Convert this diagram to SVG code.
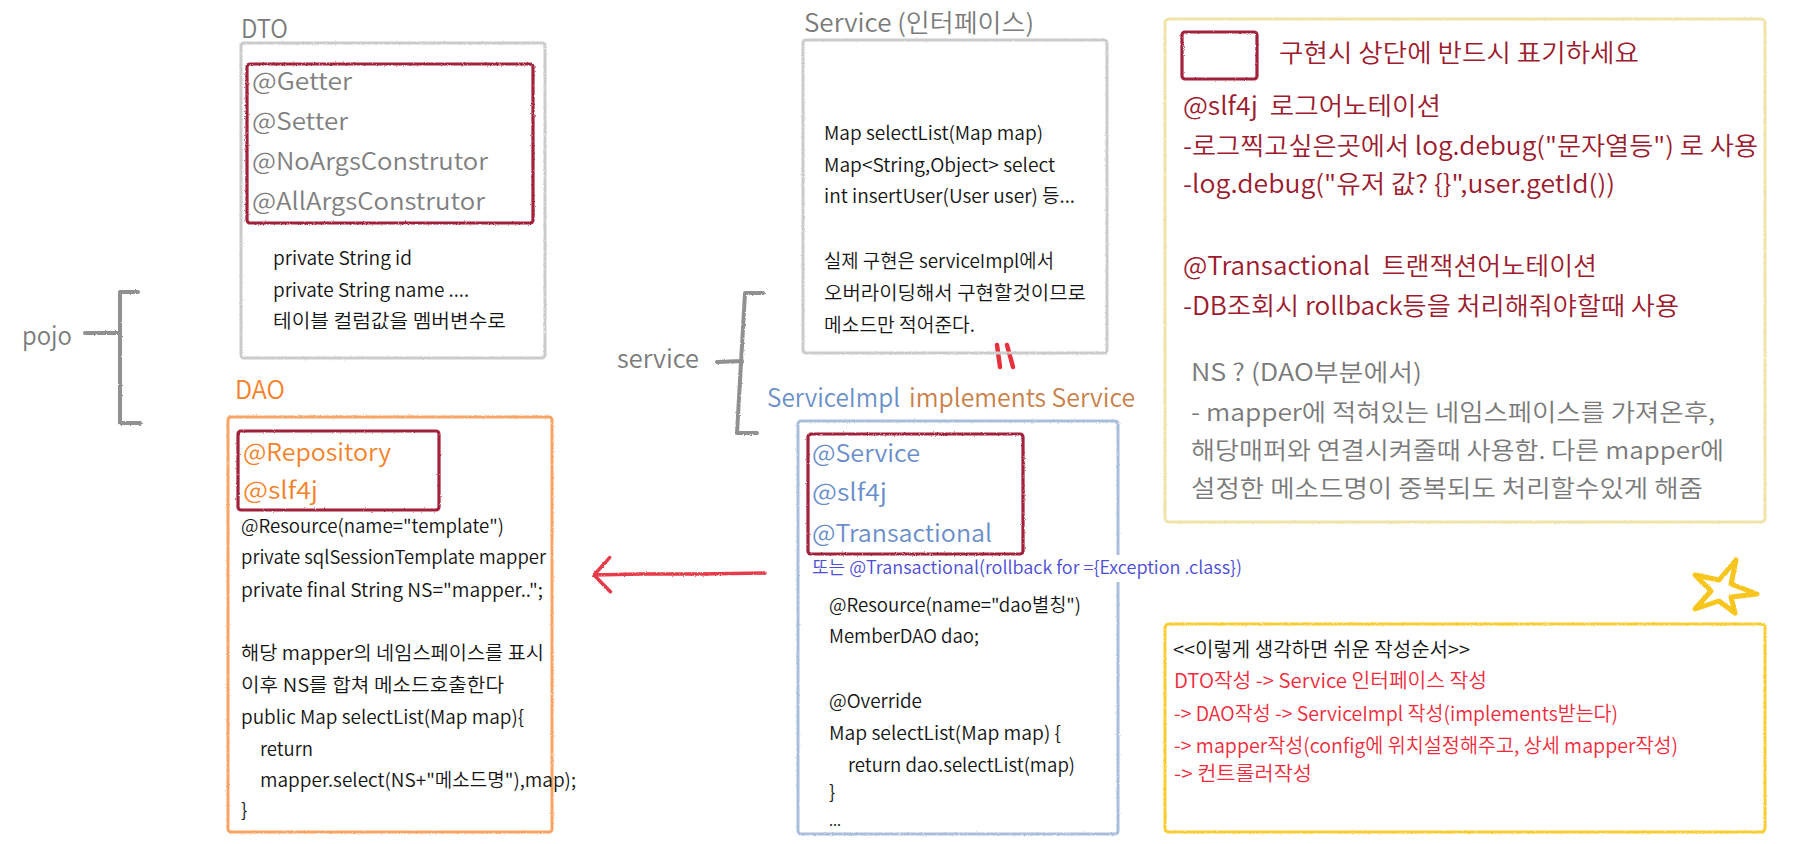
<svg xmlns="http://www.w3.org/2000/svg" width="1809" height="844" viewBox="0 0 1809 844">
<style>
text{font-family:'Noto Sans CJK KR','Noto Sans',sans-serif;font-weight:350}
.lbl{font-size:25px;fill:#7b7b7b}
.ann{font-size:24px}
.code{font-size:19px;fill:#141414}
.box{fill:none;stroke-width:3;filter:url(#crayon)}
.gray{stroke:#cbcbcb}
.inner{stroke:#a3203a;stroke-width:3.2}
.dr{fill:#9c1b2e;font-size:25px}
.ns{fill:#7a7a7a;font-size:24px}
.ord{font-size:20px;fill:#f02b3c}
.brk{fill:none;stroke:#909090;stroke-width:4;stroke-linecap:round;stroke-linejoin:round;filter:url(#crayon)}
</style>
<defs>
<filter id="crayon" filterUnits="userSpaceOnUse" x="0" y="0" width="1809" height="844">
<feTurbulence type="fractalNoise" baseFrequency="0.9" numOctaves="1" seed="3" result="n"/>
<feDisplacementMap in="SourceGraphic" in2="n" scale="2.5" xChannelSelector="R" yChannelSelector="G"/>
</filter>
<marker id="chev" viewBox="0 0 20 40" markerWidth="20" markerHeight="40" refX="19" refY="20" orient="auto" markerUnits="userSpaceOnUse">
<path d="M3,3 L19,20 L3,37" fill="none" stroke="#e63a48" stroke-width="3.5" stroke-linecap="round" stroke-linejoin="round"/>
</marker>
</defs>
<rect width="1809" height="844" fill="#ffffff"/>

<g id="connectors">
<path class="brk" d="M85,333 L118,333 M138,292 L120,292 L120,423 L140,423"/>
<text class="lbl" x="22" y="345" textLength="50" lengthAdjust="spacingAndGlyphs">pojo</text>
<path class="brk" d="M717,362 L742,361 M763,293 L745,293 L737,433 L757,433"/>
<text class="lbl" x="617" y="368" textLength="82" lengthAdjust="spacingAndGlyphs">service</text>
<path d="M765,573 L700,574 L640,574 L594,575" fill="none" stroke="#e63a48" stroke-width="3.5" stroke-linecap="round" marker-end="url(#chev)" filter="url(#crayon)"/>
<path d="M997,345 L1000,367 M1007,345 L1013,367" fill="none" stroke="#e8303c" stroke-width="4.5" stroke-linecap="round"/>
</g>

<g id="dto">
<text class="lbl" x="241" y="38" textLength="47" lengthAdjust="spacingAndGlyphs">DTO</text>
<rect class="box gray" x="241" y="43" width="304" height="315" rx="3"/>
<rect class="box inner" x="247" y="64" width="286" height="159" rx="3"/>
<g class="ann" fill="#808080">
<text x="252" y="90" textLength="100" lengthAdjust="spacingAndGlyphs">@Getter</text>
<text x="252" y="130" textLength="96" lengthAdjust="spacingAndGlyphs">@Setter</text>
<text x="252" y="170" textLength="236" lengthAdjust="spacingAndGlyphs">@NoArgsConstrutor</text>
<text x="252" y="210" textLength="233" lengthAdjust="spacingAndGlyphs">@AllArgsConstrutor</text>
</g>
<text class="code" x="273" y="265" textLength="139" lengthAdjust="spacingAndGlyphs">private String id</text>
<text class="code" x="273" y="297" textLength="196" lengthAdjust="spacingAndGlyphs">private String name ....</text>
<text class="code" x="273" y="328" textLength="233" lengthAdjust="spacingAndGlyphs">테이블 컬럼값을 멤버변수로</text>
</g>

<g id="service">
<text class="lbl" x="804" y="32" textLength="230" lengthAdjust="spacingAndGlyphs">Service (인터페이스)</text>
<rect class="box gray" x="803" y="40" width="304" height="313" rx="3"/>
<text class="code" x="824" y="140" textLength="219" lengthAdjust="spacingAndGlyphs">Map selectList(Map map)</text>
<text class="code" x="824" y="172" textLength="231" lengthAdjust="spacingAndGlyphs">Map&lt;String,Object&gt; select</text>
<text class="code" x="824" y="203" textLength="251" lengthAdjust="spacingAndGlyphs">int insertUser(User user) 등...</text>
<text class="code" x="824" y="268" textLength="230" lengthAdjust="spacingAndGlyphs">실제 구현은 serviceImpl에서</text>
<text class="code" x="824" y="300" textLength="262" lengthAdjust="spacingAndGlyphs">오버라이딩해서 구현할것이므로</text>
<text class="code" x="824" y="332" textLength="151" lengthAdjust="spacingAndGlyphs">메소드만 적어준다.</text>
</g>

<g id="dao">
<text class="lbl" x="235" y="399" style="fill:#f5822a" textLength="50" lengthAdjust="spacingAndGlyphs">DAO</text>
<rect class="box" x="228" y="417" width="324" height="415" rx="3" stroke="#f7a465"/>
<rect class="box inner" x="238" y="431" width="201" height="79" rx="3"/>
<g class="ann" fill="#f5822a">
<text x="243" y="461" textLength="148" lengthAdjust="spacingAndGlyphs">@Repository</text>
<text x="243" y="499" textLength="75" lengthAdjust="spacingAndGlyphs">@slf4j</text>
</g>
<text class="code" x="241" y="533" textLength="263" lengthAdjust="spacingAndGlyphs">@Resource(name="template")</text>
<text class="code" x="241" y="564" textLength="305" lengthAdjust="spacingAndGlyphs">private sqlSessionTemplate mapper</text>
<text class="code" x="241" y="597" textLength="302" lengthAdjust="spacingAndGlyphs">private final String NS="mapper..";</text>
<text class="code" x="241" y="660" textLength="303" lengthAdjust="spacingAndGlyphs">해당 mapper의 네임스페이스를 표시</text>
<text class="code" x="241" y="692" textLength="263" lengthAdjust="spacingAndGlyphs">이후 NS를 합쳐 메소드호출한다</text>
<text class="code" x="241" y="724" textLength="283" lengthAdjust="spacingAndGlyphs">public Map selectList(Map map){</text>
<text class="code" x="260" y="756" textLength="53" lengthAdjust="spacingAndGlyphs">return</text>
<text class="code" x="260" y="787" textLength="316" lengthAdjust="spacingAndGlyphs">mapper.select(NS+"메소드명"),map);</text>
<text class="code" x="241" y="817">}</text>
</g>

<g id="serviceimpl">
<text class="lbl" x="767" y="407" style="fill:#6b8fc8" textLength="133" lengthAdjust="spacingAndGlyphs">ServiceImpl</text>
<text class="lbl" x="909" y="407" style="fill:#c9804a" textLength="226" lengthAdjust="spacingAndGlyphs">implements Service</text>
<rect class="box" x="798" y="421" width="320" height="413" rx="3" stroke="#a9bedb"/>
<rect class="box inner" x="808" y="434" width="215" height="120" rx="3"/>
<g class="ann" fill="#6a8ecb">
<text x="812" y="462" textLength="108" lengthAdjust="spacingAndGlyphs">@Service</text>
<text x="812" y="501" textLength="75" lengthAdjust="spacingAndGlyphs">@slf4j</text>
<text x="812" y="542" textLength="180" lengthAdjust="spacingAndGlyphs">@Transactional</text>
</g>
<rect x="1110" y="555" width="16" height="27" fill="#ffffff"/>
<text x="812" y="574" style="font-size:18px;fill:#4c4cd6" textLength="430" lengthAdjust="spacingAndGlyphs">또는 @Transactional(rollback for ={Exception .class})</text>
<text class="code" x="829" y="612" textLength="252" lengthAdjust="spacingAndGlyphs">@Resource(name="dao별칭")</text>
<text class="code" x="829" y="643" textLength="150" lengthAdjust="spacingAndGlyphs">MemberDAO dao;</text>
<text class="code" x="829" y="708" textLength="93" lengthAdjust="spacingAndGlyphs">@Override</text>
<text class="code" x="829" y="740" textLength="232" lengthAdjust="spacingAndGlyphs">Map selectList(Map map) {</text>
<text class="code" x="848" y="772" textLength="227" lengthAdjust="spacingAndGlyphs">return dao.selectList(map)</text>
<text class="code" x="829" y="799">}</text>
<text class="code" x="829" y="826" style="font-size:15px">...</text>
</g>

<g id="notes">
<rect class="box" x="1165" y="19" width="600" height="503" rx="4" stroke="#f0e3a8"/>
<rect class="box inner" x="1182" y="32" width="75" height="47" rx="3"/>
<text class="dr" x="1279" y="62" textLength="360" lengthAdjust="spacingAndGlyphs">구현시 상단에 반드시 표기하세요</text>
<text class="dr" x="1183" y="115" textLength="258" lengthAdjust="spacingAndGlyphs">@slf4j&#160; 로그어노테이션</text>
<text class="dr" x="1183" y="155" textLength="575" lengthAdjust="spacingAndGlyphs">-로그찍고싶은곳에서 log.debug("문자열등") 로 사용</text>
<text class="dr" x="1183" y="193" textLength="432" lengthAdjust="spacingAndGlyphs">-log.debug("유저 값? {}",user.getId())</text>
<text class="dr" x="1183" y="275" textLength="414" lengthAdjust="spacingAndGlyphs">@Transactional&#160; 트랜잭션어노테이션</text>
<text class="dr" x="1183" y="315" textLength="496" lengthAdjust="spacingAndGlyphs">-DB조회시 rollback등을 처리해줘야할때 사용</text>
<text class="ns" x="1191" y="381" textLength="231" lengthAdjust="spacingAndGlyphs">NS ? (DAO부분에서)</text>
<text class="ns" x="1191" y="421" textLength="524" lengthAdjust="spacingAndGlyphs">- mapper에 적혀있는 네임스페이스를 가져온후,</text>
<text class="ns" x="1191" y="459" textLength="533" lengthAdjust="spacingAndGlyphs">해당매퍼와 연결시켜줄때 사용함. 다른 mapper에</text>
<text class="ns" x="1191" y="497" textLength="512" lengthAdjust="spacingAndGlyphs">설정한 메소드명이 중복되도 처리할수있게 해줌</text>
</g>

<g id="star">
<polygon points="1736,560 1731,584 1757,594 1731,597 1735,613 1719,601 1695,609 1711,591 1695,575 1719,580" fill="none" stroke="#f7c51c" stroke-width="5" stroke-linejoin="round" filter="url(#crayon)"/>
</g>

<g id="order">
<rect class="box" x="1165" y="624" width="600" height="208" rx="4" stroke="#f8cd30"/>
<text x="1173" y="657" style="font-size:20px;fill:#141414" textLength="297" lengthAdjust="spacingAndGlyphs">&lt;&lt;이렇게 생각하면 쉬운 작성순서&gt;&gt;</text>
<text class="ord" x="1174" y="688" textLength="313" lengthAdjust="spacingAndGlyphs">DTO작성 -&gt; Service 인터페이스 작성</text>
<text class="ord" x="1174" y="721" textLength="444" lengthAdjust="spacingAndGlyphs">-&gt; DAO작성 -&gt; ServiceImpl 작성(implements받는다)</text>
<text class="ord" x="1174" y="753" textLength="504" lengthAdjust="spacingAndGlyphs">-&gt; mapper작성(config에 위치설정해주고, 상세 mapper작성)</text>
<text class="ord" x="1174" y="781" textLength="138" lengthAdjust="spacingAndGlyphs">-&gt; 컨트롤러작성</text>
</g>
</svg>
